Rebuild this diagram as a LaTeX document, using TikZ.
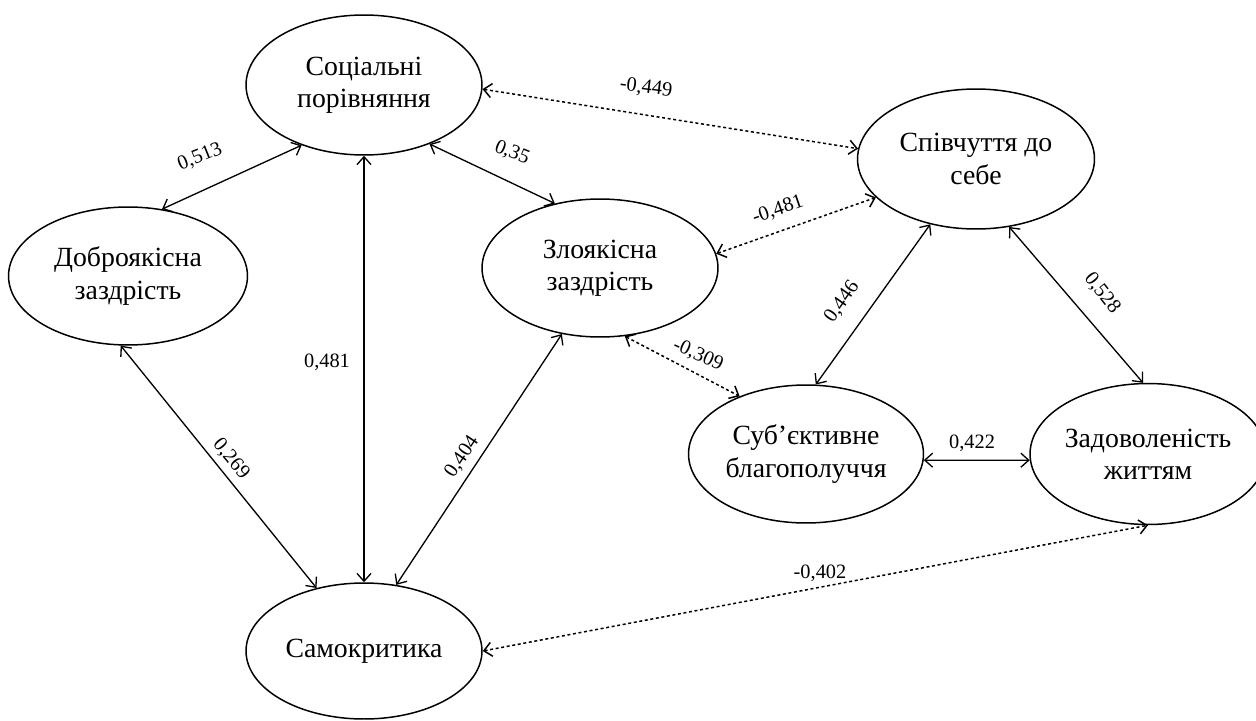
\documentclass[tikz,border=0pt]{standalone}
\usepackage{fontspec}
\setmainfont{Liberation Serif}
\usetikzlibrary{shapes.geometric,arrows.meta}
\begin{document}
\begin{tikzpicture}[x=0.02cm,y=-0.02cm,
  var/.style={ellipse,draw,line width=0.85pt,inner sep=0pt,align=center,
    minimum width=4.72cm,minimum height=2.78cm,
    font=\fontsize{15.8}{18.3}\selectfont},
  lnk/.style={line width=0.75pt,
    {Straight Barb[length=4.5pt,width=8pt]}-{Straight Barb[length=4.5pt,width=8pt]}},
  dlnk/.style={lnk,line width=0.85pt,dash pattern=on 1.7pt off 1.5pt},
  lab/.style={font=\fontsize{11.6}{13}\selectfont,inner sep=1pt}]
\useasboundingbox (0,0) rectangle (1256,720);

\node[var,minimum height=2.8cm] (soc) at (364,85) {Соціальні\\порівняння};
\node[var,minimum width=4.74cm,minimum height=2.8cm] (spiv) at (976,159) {Співчуття до\\себе};
\node[var,minimum width=4.78cm,minimum height=2.76cm] (dobr) at (128,276) {Доброякісна\\заздрість};
\node[var,minimum height=2.76cm] (zlo) at (600,268) {Злоякісна\\заздрість};
\node[var,minimum height=2.72cm] (samo) at (364,651) {Самокритика};
\node[var,minimum width=4.7cm,minimum height=2.76cm] (sub) at (806,454) {Суб’єктивне\\благополуччя};
\node[var,minimum height=2.82cm] (zad) at (1148,454) {Задоволеність\\життям};

\draw[lnk] (soc.224) -- (dobr.63);
\draw[lnk] (soc.318) -- (zlo.125);
\draw[lnk] (soc.south) -- (samo.north);
\draw[dlnk] (soc.358) -- (spiv.175);
\draw[dlnk] (zlo.7) -- (spiv.201);
\draw[dlnk] (zlo.290) -- (sub.139);
\draw[lnk] (spiv.235) -- (sub.82);
\draw[lnk] (spiv.296) -- (zad.94);
\draw[lnk] (sub.357) -- (zad.183);
\draw[lnk] (dobr.264) -- (samo.127);
\draw[lnk] (zlo.240) -- (samo.64);
\draw[dlnk] (samo.east) -- (zad.south);

\node[lab,rotate=22] (l1) at (200,157) {0,513};
\node[lab,rotate=-22] (l2) at (512,153) {0,35};
\node[lab] (l3) at (327,362) {0,481};
\node[lab,rotate=-7] (l4) at (646,88) {-0,449};
\node[lab,rotate=19] (l5) at (778,210) {-0,481};
\node[lab,rotate=-24] (l6) at (698,355) {-0,309};
\node[lab,rotate=55] (l7) at (842,302) {0,446};
\node[lab,rotate=-52] (l8) at (1102,293) {0,528};
\node[lab] (l9) at (972,443) {0,422};
\node[lab,rotate=-50] (l10) at (231,459) {0,269};
\node[lab,rotate=56] (l11) at (462,457) {0,404};
\node[lab] (l12) at (820,573) {-0,402};
\end{tikzpicture}
\end{document}
